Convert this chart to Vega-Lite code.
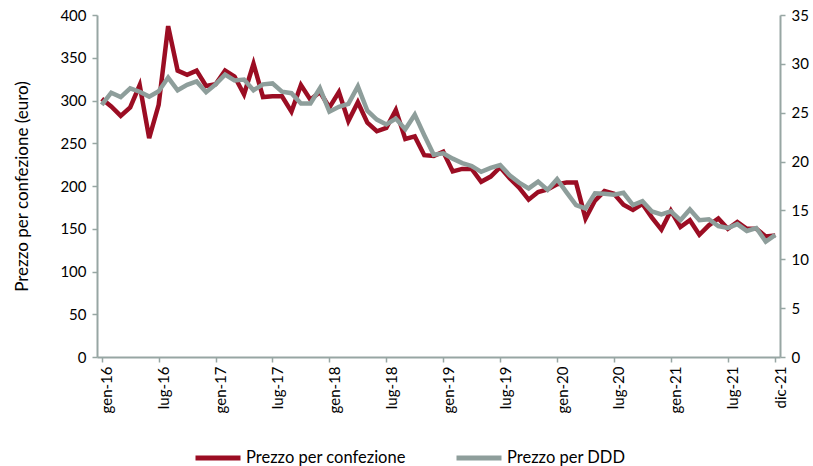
{
 "$schema": "https://vega.github.io/schema/vega-lite/v6.json",
 "width": 683,
 "height": 342,
 "autosize": {"type": "none"},
 "padding": {"left": 97, "top": 15, "right": 33, "bottom": 109},
 "background": "white",
 "config": {
  "font": "Lato",
  "view": {"stroke": null},
  "axis": {"grid": false, "domainColor": "#97a6a3", "tickColor": "#97a6a3", "domainWidth": 2, "tickWidth": 1.5, "tickSize": 5, "labelFont": "Lato", "labelFontSize": 15, "labelColor": "#000000", "titleFont": "Lato", "titleFontWeight": "normal", "titleFontSize": 17, "titleColor": "#000000"},
  "legend": {"labelFont": "Lato", "labelFontSize": 16.5, "labelColor": "#000000", "labelLimit": 400}
 },
 "data": {"values": [
  {"mese": "gen-16", "confezione": 302, "ddd": 25.8},
  {"mese": "feb-16", "confezione": 293, "ddd": 27.05},
  {"mese": "mar-16", "confezione": 282, "ddd": 26.6},
  {"mese": "apr-16", "confezione": 292, "ddd": 27.5},
  {"mese": "mag-16", "confezione": 318, "ddd": 27.15},
  {"mese": "giu-16", "confezione": 256, "ddd": 26.65},
  {"mese": "lug-16", "confezione": 295, "ddd": 27.2},
  {"mese": "ago-16", "confezione": 387, "ddd": 28.6},
  {"mese": "set-16", "confezione": 335, "ddd": 27.3},
  {"mese": "ott-16", "confezione": 330, "ddd": 27.85},
  {"mese": "nov-16", "confezione": 335, "ddd": 28.2},
  {"mese": "dic-16", "confezione": 317, "ddd": 27.1},
  {"mese": "gen-17", "confezione": 319, "ddd": 27.9},
  {"mese": "feb-17", "confezione": 335, "ddd": 28.9},
  {"mese": "mar-17", "confezione": 328, "ddd": 28.3},
  {"mese": "apr-17", "confezione": 307, "ddd": 28.4},
  {"mese": "mag-17", "confezione": 343, "ddd": 27.3},
  {"mese": "giu-17", "confezione": 304, "ddd": 27.9},
  {"mese": "lug-17", "confezione": 305, "ddd": 28.0},
  {"mese": "ago-17", "confezione": 305, "ddd": 27.15},
  {"mese": "set-17", "confezione": 287, "ddd": 27.0},
  {"mese": "ott-17", "confezione": 318, "ddd": 25.95},
  {"mese": "nov-17", "confezione": 301, "ddd": 25.95},
  {"mese": "dic-17", "confezione": 310, "ddd": 27.5},
  {"mese": "gen-18", "confezione": 292, "ddd": 25.1},
  {"mese": "feb-18", "confezione": 310, "ddd": 25.6},
  {"mese": "mar-18", "confezione": 276, "ddd": 25.9},
  {"mese": "apr-18", "confezione": 298, "ddd": 27.7},
  {"mese": "mag-18", "confezione": 274, "ddd": 25.2},
  {"mese": "giu-18", "confezione": 264, "ddd": 24.3},
  {"mese": "lug-18", "confezione": 268, "ddd": 23.8},
  {"mese": "ago-18", "confezione": 289, "ddd": 24.4},
  {"mese": "set-18", "confezione": 255, "ddd": 23.3},
  {"mese": "ott-18", "confezione": 258, "ddd": 24.8},
  {"mese": "nov-18", "confezione": 236, "ddd": 22.7},
  {"mese": "dic-18", "confezione": 235, "ddd": 20.7},
  {"mese": "gen-19", "confezione": 240, "ddd": 20.85},
  {"mese": "feb-19", "confezione": 217, "ddd": 20.3},
  {"mese": "mar-19", "confezione": 220, "ddd": 19.85},
  {"mese": "apr-19", "confezione": 220, "ddd": 19.55},
  {"mese": "mag-19", "confezione": 205, "ddd": 18.95},
  {"mese": "giu-19", "confezione": 211, "ddd": 19.35},
  {"mese": "lug-19", "confezione": 222, "ddd": 19.65},
  {"mese": "ago-19", "confezione": 209, "ddd": 18.6},
  {"mese": "set-19", "confezione": 198, "ddd": 17.85},
  {"mese": "ott-19", "confezione": 184, "ddd": 17.25},
  {"mese": "nov-19", "confezione": 193, "ddd": 17.95},
  {"mese": "dic-19", "confezione": 196, "ddd": 17.1},
  {"mese": "gen-20", "confezione": 202, "ddd": 18.2},
  {"mese": "feb-20", "confezione": 204, "ddd": 16.85},
  {"mese": "mar-20", "confezione": 204, "ddd": 15.55},
  {"mese": "apr-20", "confezione": 162, "ddd": 15.2},
  {"mese": "mag-20", "confezione": 183, "ddd": 16.75},
  {"mese": "giu-20", "confezione": 194, "ddd": 16.7},
  {"mese": "lug-20", "confezione": 191, "ddd": 16.6},
  {"mese": "ago-20", "confezione": 178, "ddd": 16.8},
  {"mese": "set-20", "confezione": 172, "ddd": 15.55},
  {"mese": "ott-20", "confezione": 179, "ddd": 15.95},
  {"mese": "nov-20", "confezione": 163, "ddd": 14.9},
  {"mese": "dic-20", "confezione": 149, "ddd": 14.6},
  {"mese": "gen-21", "confezione": 171, "ddd": 14.9},
  {"mese": "feb-21", "confezione": 152, "ddd": 14.0},
  {"mese": "mar-21", "confezione": 160, "ddd": 15.1},
  {"mese": "apr-21", "confezione": 143, "ddd": 14.0},
  {"mese": "mag-21", "confezione": 154, "ddd": 14.1},
  {"mese": "giu-21", "confezione": 162, "ddd": 13.4},
  {"mese": "lug-21", "confezione": 150, "ddd": 13.2},
  {"mese": "ago-21", "confezione": 158, "ddd": 13.6},
  {"mese": "set-21", "confezione": 150, "ddd": 12.9},
  {"mese": "ott-21", "confezione": 150, "ddd": 13.2},
  {"mese": "nov-21", "confezione": 141, "ddd": 11.8},
  {"mese": "dic-21", "confezione": 142, "ddd": 12.5}
 ]},
 "encoding": {
  "x": {
   "field": "mese", "type": "ordinal", "sort": null,
   "scale": {"type": "point", "padding": 0.5},
   "axis": {"title": null, "values": ["gen-16", "lug-16", "gen-17", "lug-17", "gen-18", "lug-18", "gen-19", "lug-19", "gen-20", "lug-20", "gen-21", "lug-21", "dic-21"], "labelAngle": 270, "labelOffset": 5, "labelPadding": 4}
  }
 },
 "layer": [
  {
   "mark": {"type": "line", "strokeWidth": 4.5},
   "encoding": {
    "y": {"field": "confezione", "type": "quantitative", "scale": {"domain": [0, 400], "nice": false},
     "axis": {"orient": "left", "title": "Prezzo per confezione (euro)", "values": [0, 50, 100, 150, 200, 250, 300, 350, 400], "labelPadding": 6, "titlePadding": 28}},
    "color": {"datum": "Prezzo per confezione", "type": "nominal",
     "scale": {"domain": ["Prezzo per confezione", "Prezzo per DDD"], "range": ["#9b0d23", "#8e9e9b"]},
     "legend": {"title": null, "orient": "none", "direction": "horizontal", "legendX": 96, "legendY": 418, "symbolType": "stroke", "symbolSize": 2025, "symbolStrokeWidth": 5, "labelOffset": 3, "columnPadding": 40}}
   }
  },
  {
   "mark": {"type": "line", "strokeWidth": 4.5},
   "encoding": {
    "y": {"field": "ddd", "type": "quantitative", "scale": {"domain": [0, 35], "nice": false},
     "axis": {"orient": "right", "title": null, "values": [0, 5, 10, 15, 20, 25, 30, 35], "labelPadding": 6}},
    "color": {"datum": "Prezzo per DDD", "type": "nominal"}
   }
  }
 ],
 "resolve": {"scale": {"y": "independent"}}
}
